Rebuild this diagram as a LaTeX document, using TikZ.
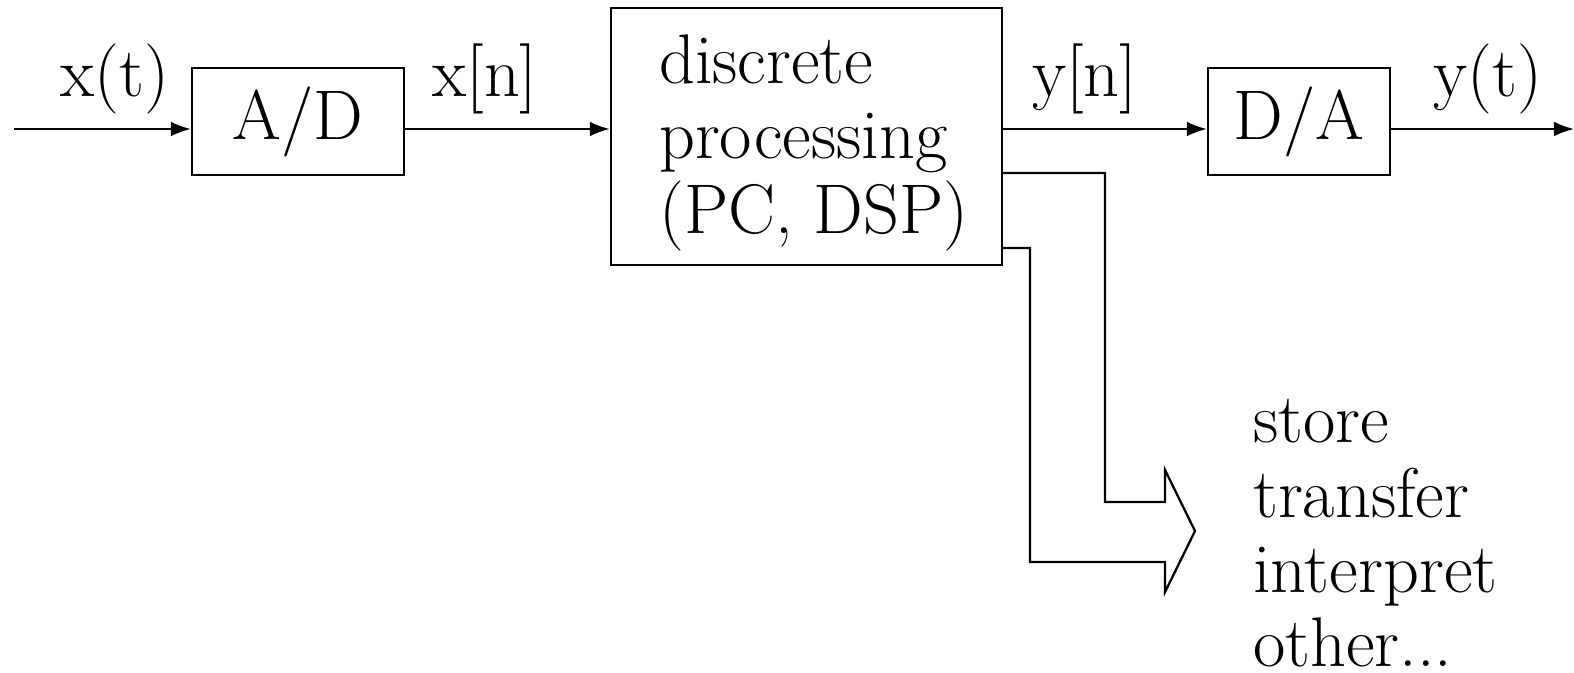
\documentclass[tikz,border=0pt]{standalone}
\usepackage{tikz}
\usetikzlibrary{positioning,arrows.meta,calc}

\begin{document}
\begin{tikzpicture}[>={Latex[length=5.7pt,width=4.2pt]},line width=0.65pt,
  font=\fontsize{20}{21.3}\selectfont,
  box/.style={draw,inner sep=0pt,minimum height=1.07cm},
  sig/.style={above,inner sep=4pt}]
\useasboundingbox (0,0) rectangle (15.74,6.72);
\node[box,minimum width=2.12cm] (ad) at (2.98,5.505) {A/D};
\node[box,minimum width=3.91cm,minimum height=2.57cm] (dsp) at (8.065,5.355) {};
\node[anchor=north west,align=left,inner sep=0pt] (dsptext) at (6.58,6.38) {discrete\\processing\\(PC, DSP)};
\node[box,minimum width=1.82cm] (da) at (12.99,5.505) {D/A};
\node[anchor=north west,align=left,inner sep=0pt] (uses) at (12.52,2.74) {store\\transfer\\interpret\\other...};
\coordinate (in) at (0.14,5.43);
\coordinate (out) at (15.74,5.43);
% signal chain
\draw[->] (in) -- (in -| ad.west) node[sig,pos=0.57]{x(t)};
\draw[->] (in -| ad.east) -- (in -| dsp.west) node[sig,pos=0.39]{x[n]};
\draw[->] (in -| dsp.east) -- (in -| da.west) node[sig,pos=0.40]{y[n]};
\draw[->] (in -| da.east) -- (out) node[sig,pos=0.53]{y(t)};
% hollow arrow to the other uses
\draw (dsp.east |- 0,4.99) -| (11.05,1.70) -- (11.65,1.70) -- (11.65,2.02)
  -- (11.95,1.41) -- (11.65,0.80) -- (11.65,1.10) -| (10.30,4.24) -- (dsp.east |- 0,4.24);
\end{tikzpicture}
\end{document}
